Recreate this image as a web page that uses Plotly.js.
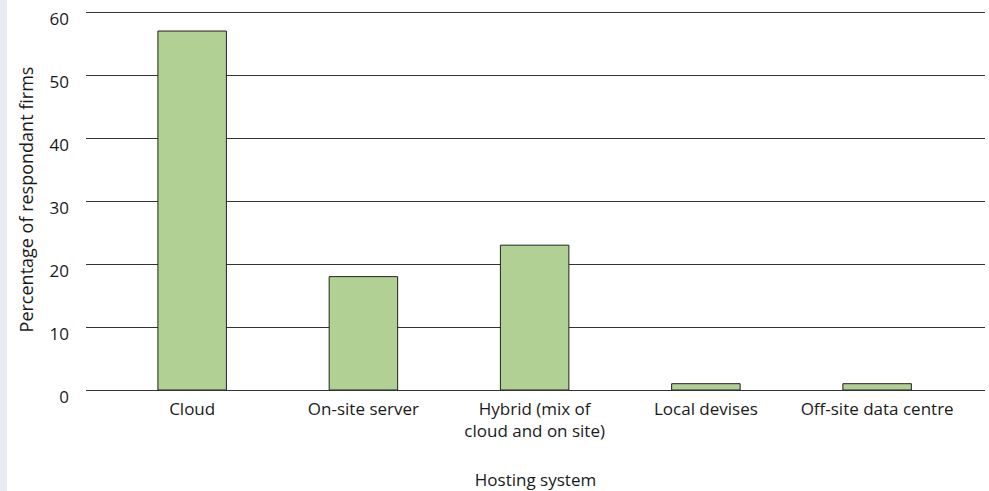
<!DOCTYPE html>
<html>
<head>
<meta charset="utf-8">
<script src="https://cdn.plot.ly/plotly-3.0.1.min.js"></script>
<style>
html,body{margin:0;padding:0;background:#fff;}
#chart{width:989px;height:491px;}
</style>
</head>
<body>
<div id="chart"></div>
<script>
const categories = ["Cloud", "On-site server", "Hybrid (mix of<br>cloud and on site)", "Local devises", "Off-site data centre"];
const values = [57, 18, 23, 1, 1];
const yTicks = [0, 10, 20, 30, 40, 50, 60];

const trace = {
  type: "bar",
  x: categories,
  y: values,
  width: 0.4,
  marker: {color: "#b0d094", line: {color: "#222", width: 1}},
  hoverinfo: "x+y"
};

const W = 989, L = 86, R = 4, T = 9, B = 101;
const PH = 491 - T - B;
const FONT = "'Open Sans', sans-serif";
const layout = {
  width: 989, height: 491,
  margin: {l: L, r: R, t: T, b: B},
  paper_bgcolor: "#fff",
  plot_bgcolor: "#fff",
  font: {family: FONT, size: 17, color: "#1a1a1a"},
  showlegend: false,
  xaxis: {
    type: "category",
    range: [-0.62, 4.63],
    showgrid: false,
    showline: false,
    zeroline: false,
    ticks: "",
    ticklabelstandoff: 7,
    tickfont: {family: FONT, size: 17, color: "#1a1a1a"},
    title: {text: "Hosting system", font: {family: FONT, size: 17, color: "#1a1a1a"}, standoff: 35}
  },
  yaxis: {
    range: [0, 60.5],
    tickvals: yTicks,
    showgrid: true,
    gridcolor: "#333",
    gridwidth: 1,
    zeroline: true,
    zerolinecolor: "#333",
    zerolinewidth: 1,
    showline: false,
    ticks: "",
    ticklabelstandoff: 16,
    ticklabelshift: 7,
    tickfont: {family: FONT, size: 17, color: "#1a1a1a"},
    title: {text: "Percentage of respondant firms", font: {family: FONT, size: 18, color: "#1a1a1a"}, standoff: 11}
  },
  shapes: [{
    type: "rect", xref: "paper", yref: "paper", layer: "below",
    x0: (0 - L) / (W - L - R), x1: (7 - L) / (W - L - R),
    y0: -B / PH, y1: T / PH + 1,
    fillcolor: "#e8ecf2", line: {width: 0}
  }]
};

Plotly.newPlot("chart", [trace], layout, {displayModeBar: false, staticPlot: true});
</script>
</body>
</html>
